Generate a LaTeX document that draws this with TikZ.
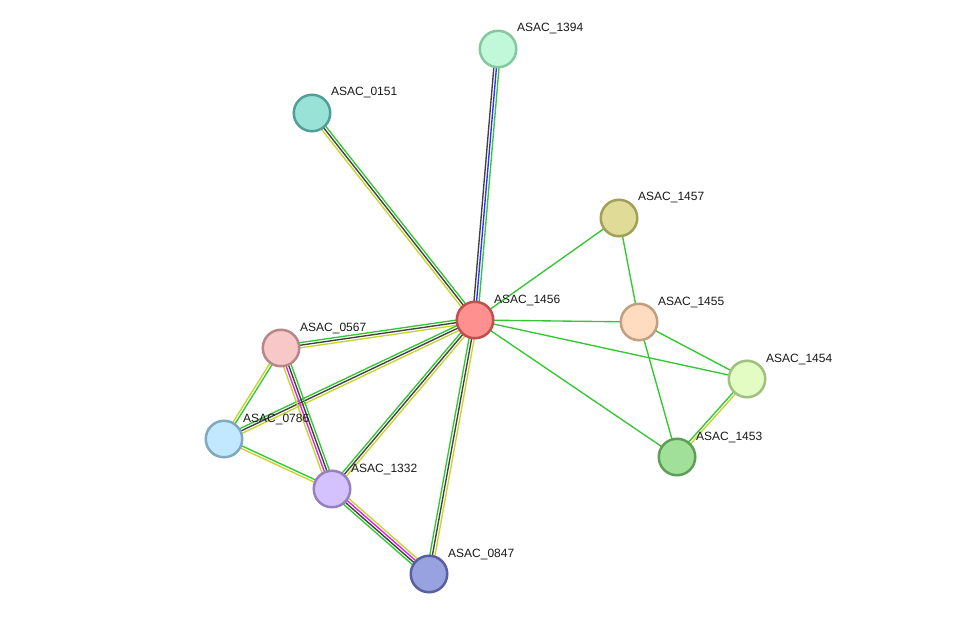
\documentclass[tikz,border=0pt]{standalone}
\usepackage{fontspec}
\setmainfont{Liberation Sans}
\usetikzlibrary{calc}
\pgfdeclarelayer{bottom}
\pgfdeclarelayer{background}
\pgfsetlayers{bottom,background,main}
\definecolor{egreen}{HTML}{33C833}
\definecolor{eblack}{HTML}{404040}
\definecolor{eyellow}{HTML}{C4D62C}
\definecolor{eblue}{HTML}{2E2EFF}
\definecolor{emag}{HTML}{E020E0}
\definecolor{f1456}{HTML}{FF9090}\definecolor{d1456}{HTML}{C05050}
\definecolor{f1394}{HTML}{C2F8DA}\definecolor{d1394}{HTML}{84C8A0}
\definecolor{f0151}{HTML}{98E2D8}\definecolor{d0151}{HTML}{50A098}
\definecolor{f1457}{HTML}{E0DC98}\definecolor{d1457}{HTML}{A0A058}
\definecolor{f1455}{HTML}{FFDCC0}\definecolor{d1455}{HTML}{C0A080}
\definecolor{f1454}{HTML}{E2FCC4}\definecolor{d1454}{HTML}{A0C080}
\definecolor{f1453}{HTML}{A0E098}\definecolor{d1453}{HTML}{5E9E56}
\definecolor{f0567}{HTML}{F8C8C8}\definecolor{d0567}{HTML}{B88888}
\definecolor{f0786}{HTML}{C2E8FF}\definecolor{d0786}{HTML}{80A8C0}
\definecolor{f1332}{HTML}{D4C2FF}\definecolor{d1332}{HTML}{9880C0}
\definecolor{f0847}{HTML}{98A2E0}\definecolor{d0847}{HTML}{5860A0}
\newcommand{\ppiedge}[3]{%
  \foreach \c [count=\i] in {#3} {\xdef\nlines{\i}}%
  \foreach \c [count=\i] in {#3} {%
    \pgfmathsetmacro{\off}{(\i-1-(\nlines-1)/2)*2.6}%
    \draw[edgeline, color=\c] ($(#1.center)!\off pt!90:(#2.center)$) -- ($(#2.center)!\off pt!-90:(#1.center)$);
  }}
\newcommand{\protnode}[3]{%
  \node[prot, fill=f#1, draw=d#1] (#1) at (#2,#3) {};
  \node[lab] (l#1) at (#2+19,#3-17) {ASAC\_#1};}
\begin{document}
\begin{tikzpicture}[x=1pt,y=-1pt,
  prot/.style={circle, line width=2.5pt, minimum size=36.5pt, inner sep=0pt},
  lab/.style={anchor=base west, inner sep=0pt, font=\fontsize{12pt}{14pt}\selectfont, text=black!90},
  edgeline/.style={line width=1.35pt}]
\begin{pgfonlayer}{bottom}
\fill[white] (0,0) rectangle (976,620);
\end{pgfonlayer}
\useasboundingbox (0,0) rectangle (976,620);
\protnode{1456}{475}{320}
\protnode{1394}{498}{49}
\protnode{0151}{312}{113}
\protnode{1457}{619}{218}
\protnode{1455}{639}{322}
\protnode{1454}{747}{379}
\protnode{1453}{677}{457}
\protnode{0567}{281}{348}
\protnode{0786}{224}{439}
\protnode{1332}{332}{489}
\protnode{0847}{429}{574}
\begin{pgfonlayer}{background}
\ppiedge{1456}{1394}{egreen,eblue,eblack}
\ppiedge{1456}{0151}{egreen,eblack,eyellow}
\ppiedge{1456}{1457}{egreen}
\ppiedge{1456}{1455}{egreen}
\ppiedge{1456}{1454}{egreen}
\ppiedge{1456}{1453}{egreen}
\ppiedge{1457}{1455}{egreen}
\ppiedge{1455}{1454}{egreen}
\ppiedge{1455}{1453}{egreen}
\ppiedge{1454}{1453}{egreen,eyellow}
\ppiedge{1456}{0567}{egreen,eblack,eyellow}
\ppiedge{1456}{0786}{egreen,eblack,eyellow}
\ppiedge{1456}{1332}{egreen,eblack,eyellow}
\ppiedge{1456}{0847}{egreen,eblack,eyellow}
\ppiedge{0567}{0786}{eyellow,egreen}
\ppiedge{0567}{1332}{eyellow,emag,eblack,egreen}
\ppiedge{0786}{1332}{eyellow,egreen}
\ppiedge{1332}{0847}{egreen,eblack,emag,eyellow}
\end{pgfonlayer}
\end{tikzpicture}
\end{document}
